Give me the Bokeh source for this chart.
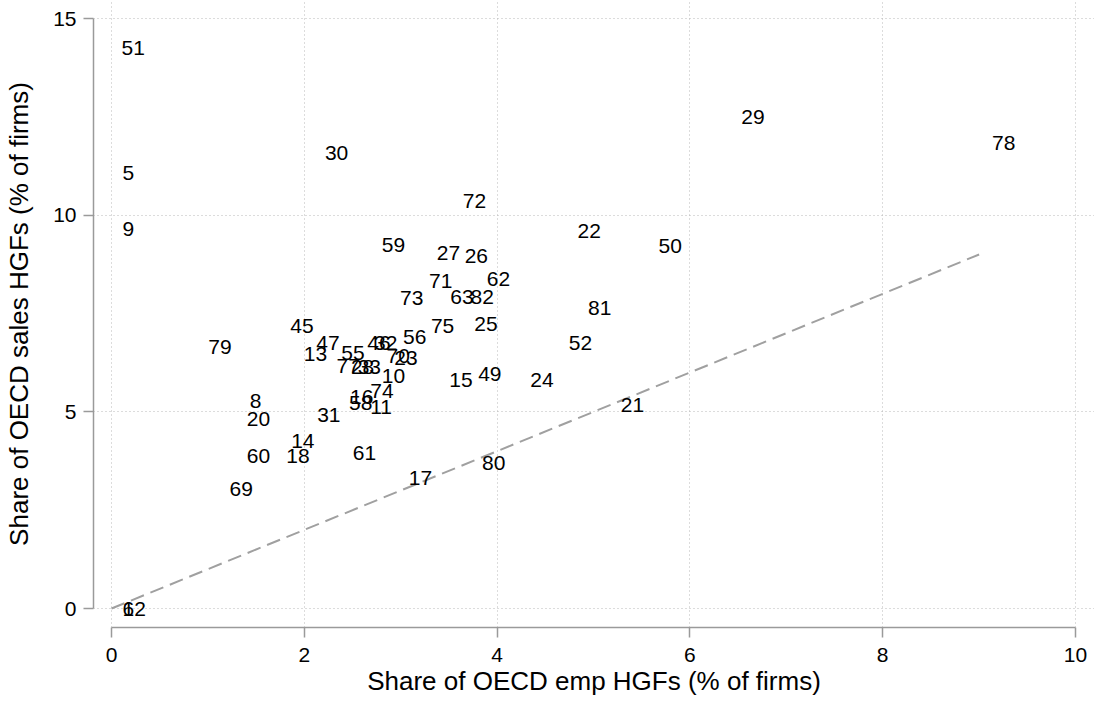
from bokeh.plotting import figure
from bokeh.models import Range1d, FixedTicker, ColumnDataSource
from bokeh.core.properties import value
from bokeh.embed import file_html
from bokeh.resources import INLINE

# industry codes and their shares
codes = ["5", "6", "8", "9", "10", "11", "12", "13", "14", "15", "16", "17", "18",
         "20", "21", "22", "23", "24", "25", "26", "27", "28", "29", "30", "31",
         "32", "33", "45", "46", "47", "49", "50", "51", "52", "55", "56", "58",
         "59", "60", "61", "62", "63", "69", "70", "71", "72", "73", "74", "75",
         "77", "78", "79", "80", "81", "82"]
emp_share = [0.01, 0.01, 1.33, 0.01, 2.70, 2.58, 0.01, 1.89, 1.76, 3.40, 2.37, 2.98, 1.71,
             1.30, 5.18, 4.73, 2.83, 4.24, 3.66, 3.56, 3.27, 2.38, 6.43, 2.11, 2.03,
             2.62, 2.45, 1.75, 2.55, 2.02, 3.70, 5.57, 0.00, 4.64, 2.28, 2.92, 2.36,
             2.70, 1.30, 2.40, 3.79, 3.41, 1.12, 2.75, 3.19, 3.54, 2.89, 2.58, 3.21,
             2.23, 9.03, 0.90, 3.74, 4.84, 3.62]
sales_share = [11.07, 0.00, 5.28, 9.66, 5.90, 5.12, 0.00, 6.46, 4.26, 5.80, 5.39, 3.33, 3.87,
               4.82, 5.18, 9.60, 6.37, 5.80, 7.24, 8.96, 9.03, 6.15, 12.49, 11.57, 4.91,
               6.76, 6.15, 7.17, 6.76, 6.75, 5.96, 9.22, 14.26, 6.75, 6.50, 6.90, 5.22,
               9.24, 3.88, 3.96, 8.37, 7.92, 3.03, 6.41, 8.33, 10.37, 7.90, 5.54, 7.17,
               6.16, 11.84, 6.64, 3.71, 7.65, 7.92]

x_ticks = [0, 2, 4, 6, 8, 10]
y_ticks = [0, 5, 10, 15]
diag_x = [0, 9]
diag_y = [0, 9]

FONT = "Liberation Sans"
AXIS_GREY = "#9a9a9a"

p = figure(width=1094, height=703,
           x_range=Range1d(-0.1867, 10.197), y_range=Range1d(-0.483, 15.458),
           output_backend="svg", toolbar_location=None,
           min_border_left=93, min_border_right=0, min_border_top=0, min_border_bottom=76)
p.outline_line_color = None
p.background_fill_color = "white"
p.border_fill_color = "white"

for ax, ticks, bnds in ((p.xaxis[0], x_ticks, (0, 10)), (p.yaxis[0], y_ticks, (0, 15))):
    ax.ticker = FixedTicker(ticks=ticks)
    ax.bounds = bnds
    ax.axis_line_color = AXIS_GREY
    ax.axis_line_width = 1.5
    ax.major_tick_line_color = AXIS_GREY
    ax.major_tick_line_width = 1.5
    ax.major_tick_out = 10
    ax.major_tick_in = 0
    ax.minor_tick_line_color = None
    ax.major_label_text_font = FONT
    ax.major_label_text_font_size = "21px"
    ax.major_label_text_color = "black"
    ax.axis_label_text_font = FONT
    ax.axis_label_text_font_size = "26px"
    ax.axis_label_text_font_style = "normal"
    ax.axis_label_text_color = "black"

p.xaxis.axis_label = "Share of OECD emp HGFs (% of firms)"
p.yaxis.axis_label = "Share of OECD sales HGFs (% of firms)"
p.xaxis.major_label_standoff = 10
p.xaxis.axis_label_standoff = 1
p.yaxis.major_label_standoff = 7
p.yaxis.axis_label_standoff = 16

p.xgrid.ticker = FixedTicker(ticks=x_ticks)
p.ygrid.ticker = FixedTicker(ticks=y_ticks)
for g in (p.xgrid[0], p.ygrid[0]):
    g.grid_line_color = "#b8b8b8"
    g.grid_line_dash = "1 3"
    g.grid_line_width = 1

p.line(diag_x, diag_y, line_color="#a0a0a0", line_width=2, line_dash="14 7")

src = ColumnDataSource(dict(x=emp_share, y=sales_share, label=codes))
p.text(x="x", y="y", text="label", source=src, x_offset=10,
       text_align="left", text_baseline="middle",
       text_font=value(FONT), text_font_size="21px", text_color="black")

open("out.html", "w").write(file_html(p, INLINE))
